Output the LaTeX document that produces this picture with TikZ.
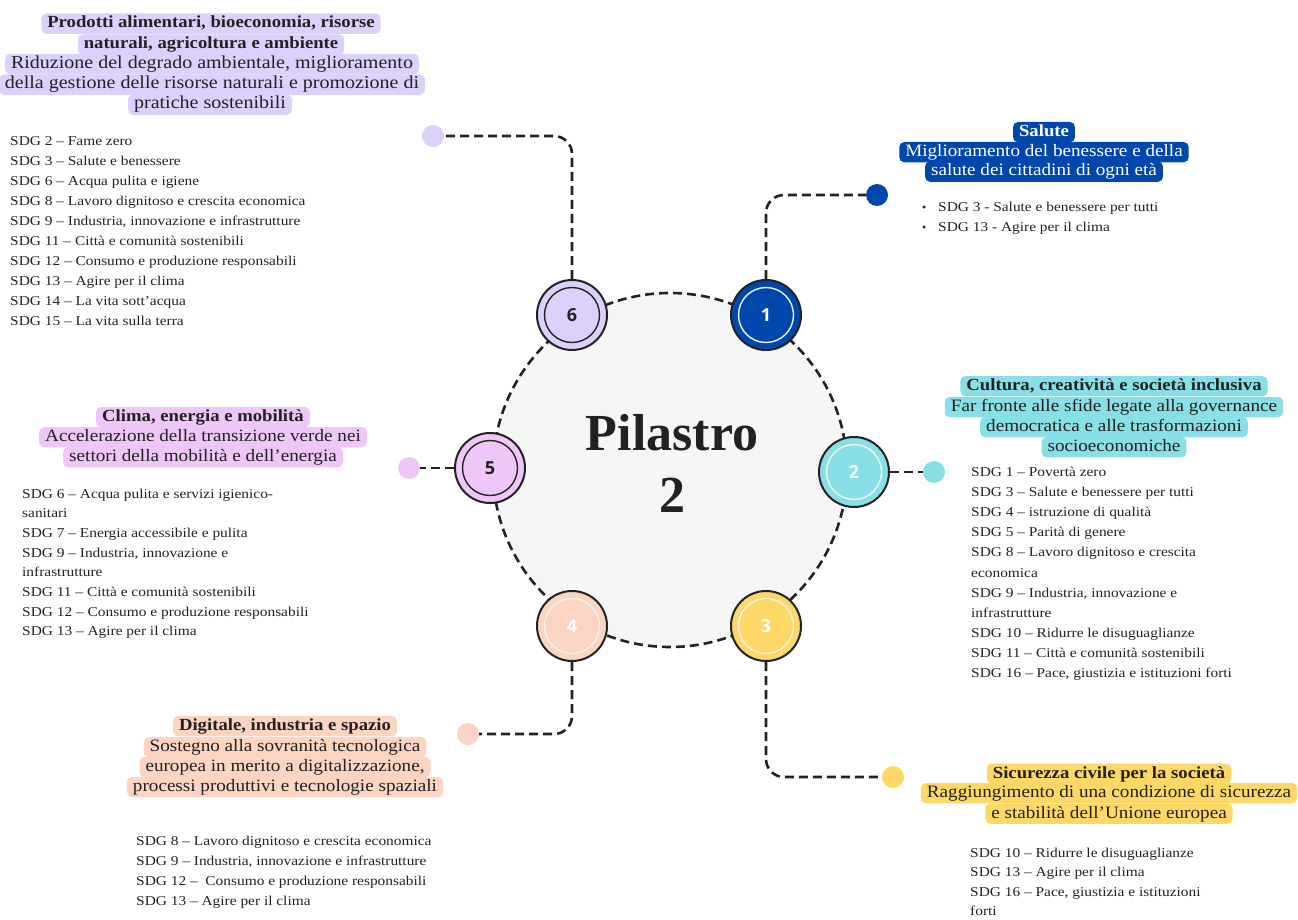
\documentclass[tikz,border=0pt]{standalone}
\usepackage{fontspec}
\setmainfont{Liberation Serif}
\newfontfamily\capf{Liberation Serif}[FakeStretch=1.1]
\newfontfamily\listf{Liberation Serif}[FakeStretch=1.14]
\newfontfamily\numf{Open Sans}

\definecolor{ink}{HTML}{222222}
\definecolor{hubgrey}{HTML}{F6F6F6}
\definecolor{lav}{HTML}{DCD0FD}
\definecolor{lil}{HTML}{EFC6F8}
\definecolor{eublue}{HTML}{0047AB}
\definecolor{cyan}{HTML}{89DFE6}
\definecolor{sun}{HTML}{FDD866}
\definecolor{peach}{HTML}{FCD4C4}
\definecolor{ringlight}{HTML}{F4F1EA}

\tikzset{
  conn/.style={draw=ink, line width=2.6pt, dash pattern=on 9pt off 5pt, rounded corners=18pt},
  hub/.style={circle, draw=ink, fill=hubgrey, line width=2.6pt, dash pattern=on 9pt off 5pt,
              minimum size=354pt, inner sep=0pt},
  pillar/.style 2 args={circle, draw=ink, line width=2pt, fill=#1, text=#2, minimum size=70pt,
              inner sep=0pt, font=\numf\bfseries\fontsize{18}{18}\selectfont},
  ring/.style={draw=#1, line width=1.4pt},
  endpt/.style={circle, fill=#1, minimum size=22pt, inner sep=0pt},
  hl/.style={fill=#1, rounded corners=5pt, inner xsep=6pt, inner ysep=0pt,
             text height=14.5pt, text depth=5.8pt, anchor=base, text=ink},
  ttl/.style={font=\capf\bfseries\fontsize{17}{20}\selectfont},
  dsc/.style={font=\capf\fontsize{17.4}{20}\selectfont},
  dscbig/.style={font=\capf\fontsize{18.2}{20}\selectfont},
  sdg/.style={anchor=base west, inner sep=0pt, font=\listf\fontsize{13.5}{20}\selectfont, text=ink},
  pil/.style={anchor=base, inner sep=0pt, text=ink, font=\bfseries\fontsize{52}{60}\selectfont},
}

\begin{document}
\begin{tikzpicture}[x=1pt, y=-1pt]
\useasboundingbox (0,0) rectangle (1298,920);

% central hub
\node[hub] (hub) at (670,470) {};
\node[pil] (pilA) at (672,450) {Pilastro};
\node[pil] (pilB) at (672,512) {2};

% the six pillars round the hub
\node[pillar={eublue}{white}] (n1) at (766,315) {1};
\node[pillar={cyan}{white}]   (n2) at (854,472) {2};
\node[pillar={sun}{white}]    (n3) at (766,626) {3};
\node[pillar={peach}{white}]  (n4) at (572,626) {4};
\node[pillar={lil}{ink}]      (n5) at (490,468) {5};
\node[pillar={lav}{ink}]      (n6) at (572,315) {6};
\draw[ring=ringlight] (n1.center) circle[radius=27.5pt];
\draw[ring=ringlight] (n2.center) circle[radius=27.5pt];
\draw[ring=ringlight] (n3.center) circle[radius=27.5pt];
\draw[ring=ringlight] (n4.center) circle[radius=27.5pt];
\draw[ring=ink] (n5.center) circle[radius=27.5pt];
\draw[ring=ink] (n6.center) circle[radius=27.5pt];

% end points of the connectors
\node[endpt=eublue] (d1) at (877,195) {};
\node[endpt=cyan]   (d2) at (934,472) {};
\node[endpt=sun]    (d3) at (893,777) {};
\node[endpt=peach]  (d4) at (468,734) {};
\node[endpt=lil]    (d5) at (409,468) {};
\node[endpt=lav]    (d6) at (433,136) {};

% connectors
\draw[conn] (n1.north) |- (d1.west);
\draw[conn] (n2.east) -- (d2.west);
\draw[conn] (n3.south) |- (d3.west);
\draw[conn] (n4.south) |- (d4.east);
\draw[conn] (n5.west) -- (d5.east);
\draw[conn] (n6.north) |- (d6.east);

% pillar 6
\node[hl=lav, ttl] (t6a) at (211,28) {Prodotti alimentari, bioeconomia, risorse};
\node[hl=lav, ttl] (t6b) at (211,49) {naturali, agricoltura e ambiente};
\node[hl=lav, dscbig] (e6a) at (212,68.5) {Riduzione del degrado ambientale, miglioramento};
\node[hl=lav, dscbig] (e6b) at (212,89) {della gestione delle risorse naturali e promozione di};
\node[hl=lav, dscbig] (e6c) at (210,109) {pratiche sostenibili};
\foreach \t [count=\i from 0] in {
  {SDG 2 – Fame zero},
  {SDG 3 – Salute e benessere},
  {SDG 6 – Acqua pulita e igiene},
  {SDG 8 – Lavoro dignitoso e crescita economica},
  {SDG 9 – Industria, innovazione e infrastrutture},
  {SDG 11 – Città e comunità sostenibili},
  {SDG 12 – Consumo e produzione responsabili},
  {SDG 13 – Agire per il clima},
  {SDG 14 – La vita sott’acqua},
  {SDG 15 – La vita sulla terra}}
  \node[sdg] (s6-\i) at (10,145.5+20*\i) {\t};

% pillar 1
\node[hl=eublue, ttl, text=white] (t1) at (1044,136.5) {Salute};
\node[hl=eublue, dsc, text=white] (e1a) at (1044,156.5) {Miglioramento del benessere e della};
\node[hl=eublue, dsc, text=white] (e1b) at (1044,176) {salute dei cittadini di ogni età};
\foreach \t [count=\i from 0] in {
  {SDG 3 - Salute e benessere per tutti},
  {SDG 13 - Agire per il clima}}
  {
  \node[sdg, font=\fontsize{12}{12}\selectfont] (b1-\i) at (922,211.5+19.5*\i) {•};
  \node[sdg] (s1-\i) at (938,211.5+19.5*\i) {\t};
  }

% pillar 2
\node[hl=cyan, ttl] (t2) at (1114,390.5) {Cultura, creatività e società inclusiva};
\node[hl=cyan, dsc] (e2a) at (1114,411.5) {Far fronte alle sfide legate alla governance};
\node[hl=cyan, dsc] (e2b) at (1114,431.5) {democratica e alle trasformazioni};
\node[hl=cyan, dsc] (e2c) at (1114,451.5) {socioeconomiche};
\foreach \t [count=\i from 0] in {
  {SDG 1 – Povertà zero},
  {SDG 3 – Salute e benessere per tutti},
  {SDG 4 – istruzione di qualità},
  {SDG 5 – Parità di genere},
  {SDG 8 – Lavoro dignitoso e crescita},
  {economica},
  {SDG 9 – Industria, innovazione e},
  {infrastrutture},
  {SDG 10 – Ridurre le disuguaglianze},
  {SDG 11 – Città e comunità sostenibili},
  {SDG 16 – Pace, giustizia e istituzioni forti}}
  \node[sdg] (s2-\i) at (971,476.5+20.1*\i) {\t};

% pillar 3
\node[hl=sun, ttl] (t3) at (1109,778) {Sicurezza civile per la società};
\node[hl=sun, dsc] (e3a) at (1109,797.5) {Raggiungimento di una condizione di sicurezza};
\node[hl=sun, dsc] (e3b) at (1109,818) {e stabilità dell’Unione europea};
\foreach \t [count=\i from 0] in {
  {SDG 10 – Ridurre le disuguaglianze},
  {SDG 13 – Agire per il clima},
  {SDG 16 – Pace, giustizia e istituzioni},
  {forti}}
  \node[sdg] (s3-\i) at (970,857+19.6*\i) {\t};

% pillar 4
\node[hl=peach, ttl] (t4) at (285,730.5) {Digitale, industria e spazio};
\node[hl=peach, dsc] (e4a) at (285,751.5) {Sostegno alla sovranità tecnologica};
\node[hl=peach, dsc] (e4b) at (285,771.5) {europea in merito a digitalizzazione,};
\node[hl=peach, dsc] (e4c) at (285,791.5) {processi produttivi e tecnologie spaziali};
\foreach \t [count=\i from 0] in {
  {SDG 8 – Lavoro dignitoso e crescita economica},
  {SDG 9 – Industria, innovazione e infrastrutture},
  {SDG 12 –\ \ Consumo e produzione responsabili},
  {SDG 13 – Agire per il clima}}
  \node[sdg] (s4-\i) at (136,845+20.3*\i) {\t};

% pillar 5
\node[hl=lil, ttl] (t5) at (203,421.5) {Clima, energia e mobilità};
\node[hl=lil, dsc] (e5a) at (203,441.5) {Accelerazione della transizione verde nei};
\node[hl=lil, dsc] (e5b) at (203,461.5) {settori della mobilità e dell’energia};
\foreach \t [count=\i from 0] in {
  {SDG 6 – Acqua pulita e servizi igienico-},
  {sanitari},
  {SDG 7 – Energia accessibile e pulita},
  {SDG 9 – Industria, innovazione e},
  {infrastrutture},
  {SDG 11 – Città e comunità sostenibili},
  {SDG 12 – Consumo e produzione responsabili},
  {SDG 13 – Agire per il clima}}
  \node[sdg] (s5-\i) at (22,498+19.7*\i) {\t};
\end{tikzpicture}
\end{document}
